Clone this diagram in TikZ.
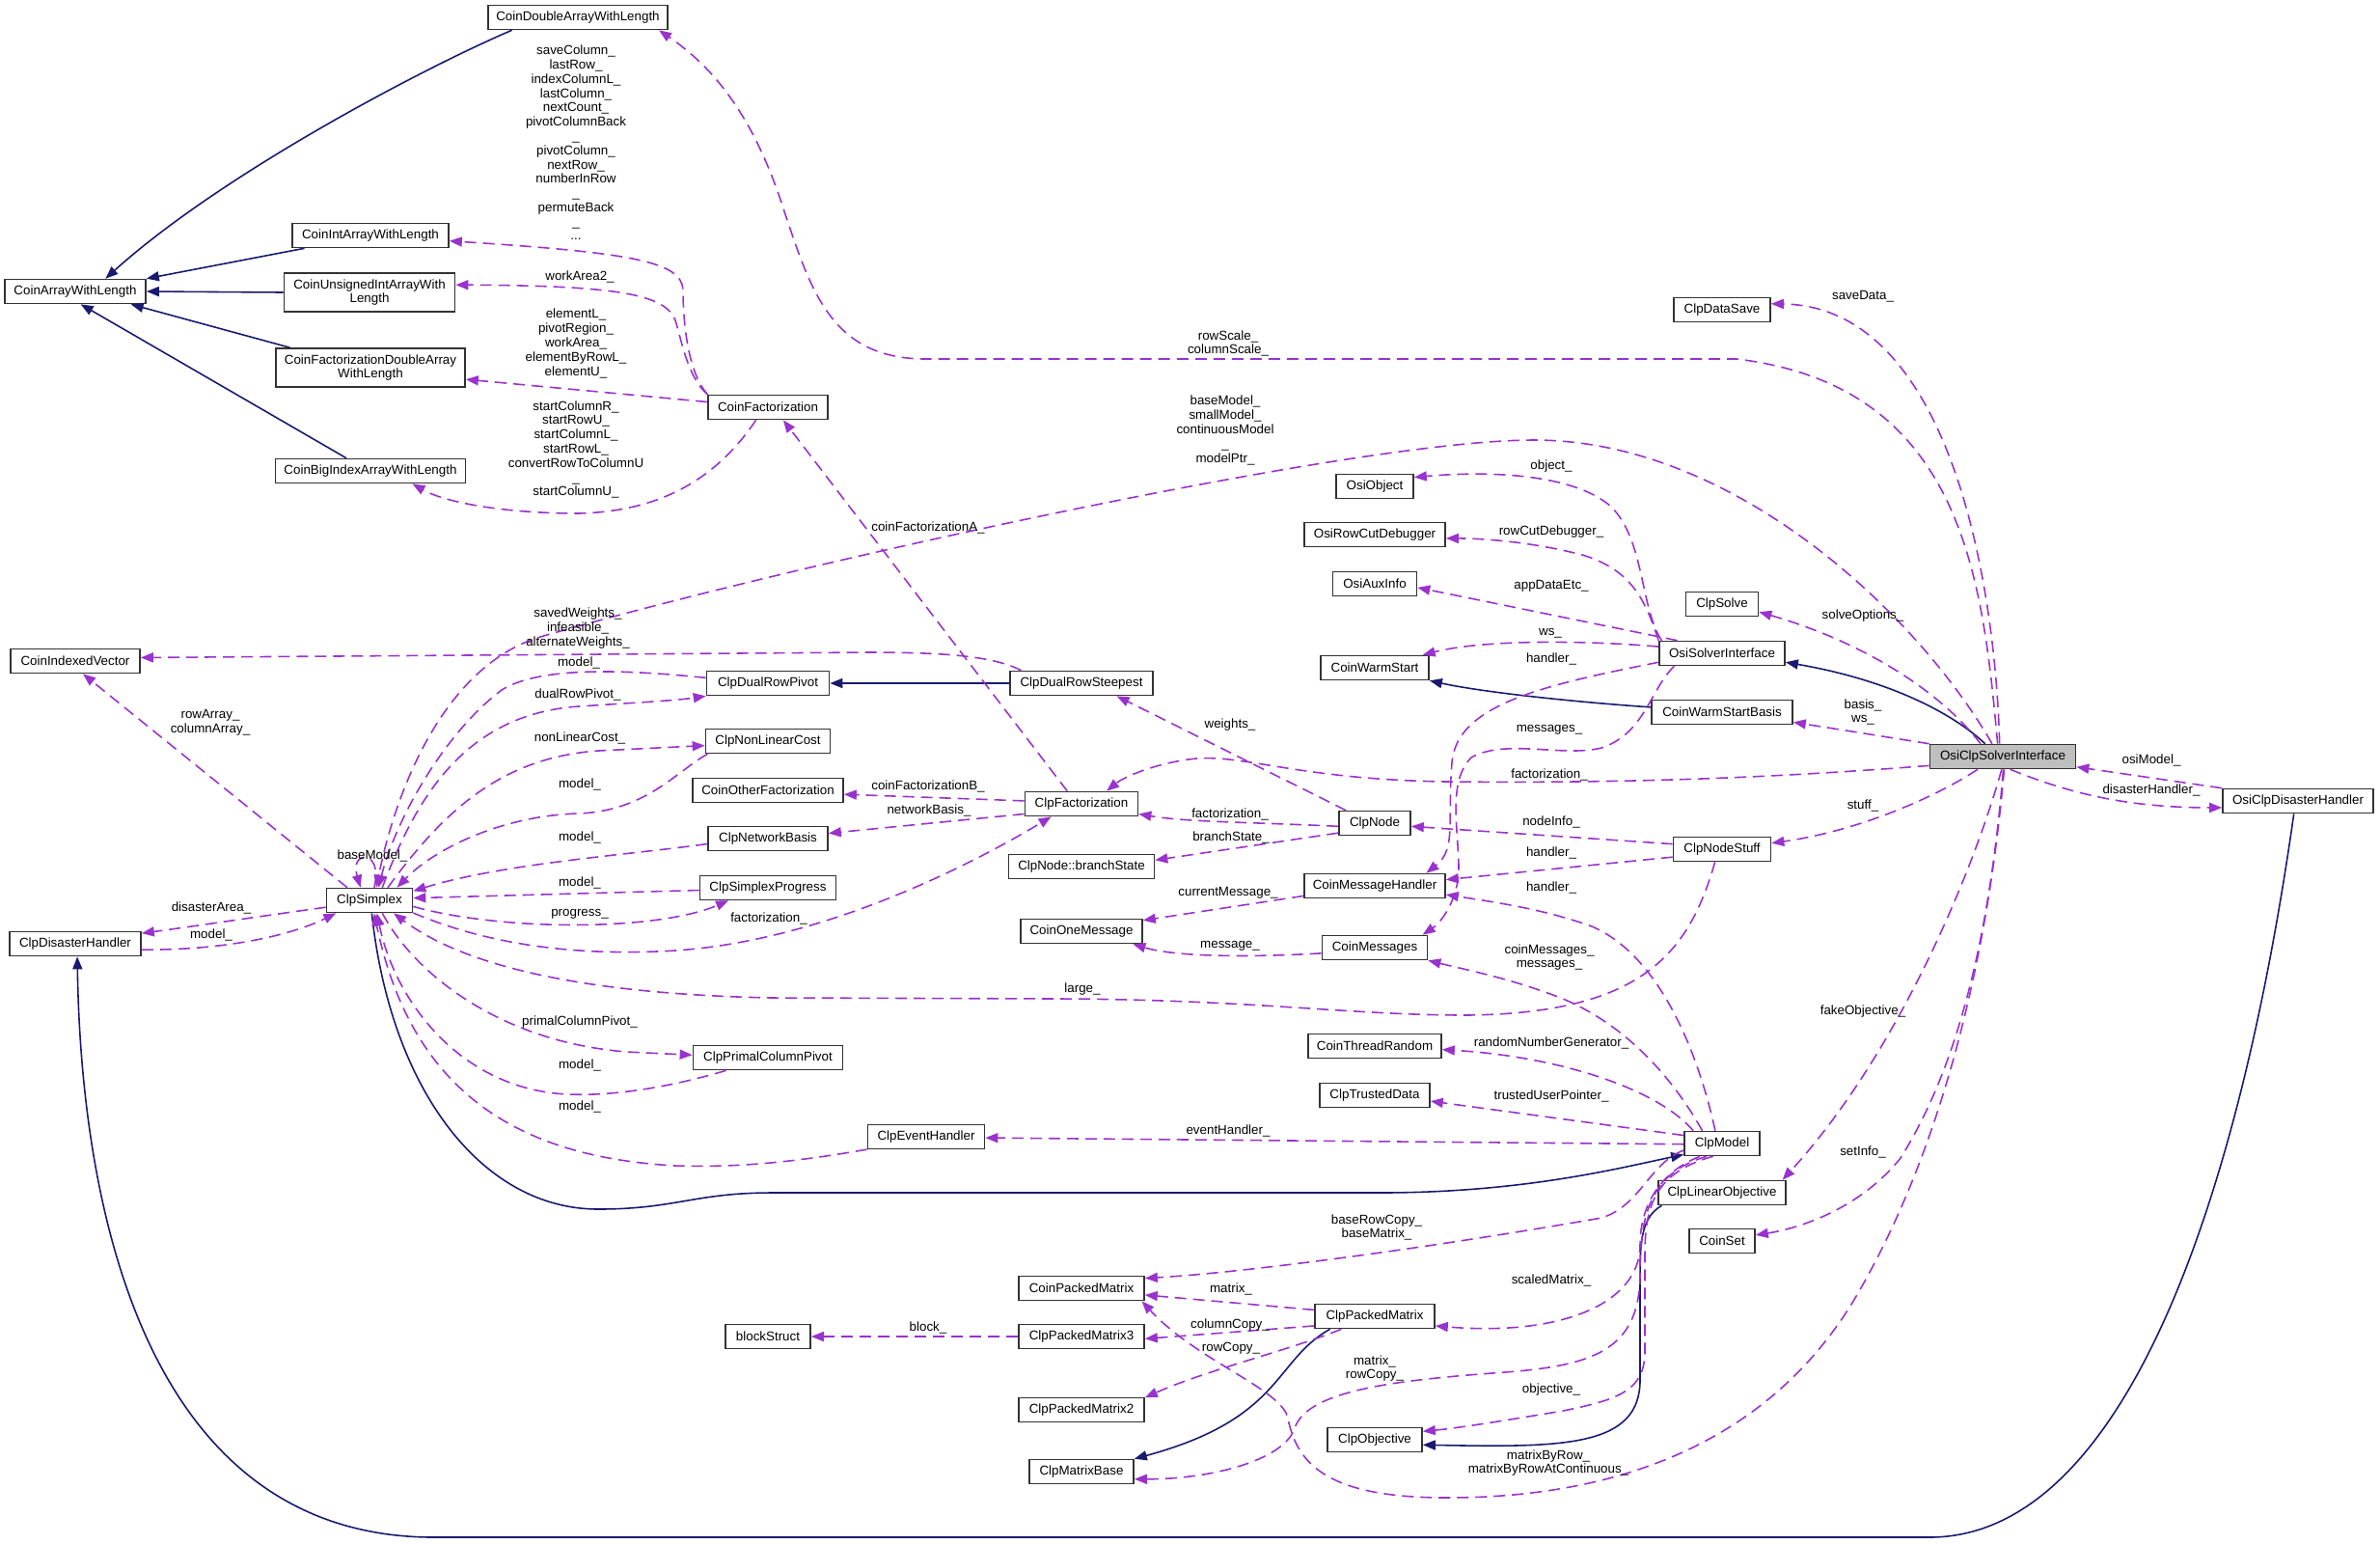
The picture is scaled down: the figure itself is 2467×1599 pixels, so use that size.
\documentclass[tikz,border=0pt]{standalone}
\usepackage{fontspec}
\setmainfont{Liberation Sans}
\usepackage{tikz}
\usetikzlibrary{arrows.meta}
\definecolor{inhblue}{HTML}{191970}
\definecolor{usepurple}{HTML}{9A32CD}
\definecolor{boxgray}{HTML}{BFBFBF}
\newcommand{\dgfont}{\fontsize{3.8}{4.2}\selectfont}
\tikzset{
  cls/.style={rectangle, draw=black!80, fill=white, line width=0.45pt, minimum width=#1,
              minimum height=0.25cm, inner sep=0pt, font=\dgfont, align=center},
  clstwo/.style={cls=#1, minimum height=0.40cm},
  focus/.style={cls=#1, fill=boxgray},
  lbl/.style={font=\dgfont, align=center, inner sep=0pt},
  inh/.style={draw=inhblue, line width=0.45pt, -{Triangle[length=0.13cm, width=0.10cm]}},
  dep/.style={draw=usepurple, line width=0.45pt, dash pattern=on 0.12cm off 0.07cm,
              -{Triangle[length=0.13cm, width=0.10cm]}},
}

\begin{document}
\begin{tikzpicture}[x=0.01cm, y=-0.01cm]
\useasboundingbox (0,0) rectangle (2467,1599);
% classes
\node[cls=1.86cm] (dblarr) at (599,18) {CoinDoubleArrayWithLength};
\node[cls=1.46cm] (arr) at (78,302) {CoinArrayWithLength};
\node[cls=1.62cm] (intarr) at (384,244) {CoinIntArrayWithLength};
\node[clstwo=1.77cm] (uintarr) at (383,303) {CoinUnsignedIntArrayWith\\Length};
\node[clstwo=1.96cm] (facdbl) at (384,381) {CoinFactorizationDoubleArray\\WithLength};
\node[cls=1.97cm] (bigidx) at (384,488) {CoinBigIndexArrayWithLength};
\node[cls=1.24cm] (coinfac) at (796,422) {CoinFactorization};
\node[cls=1.00cm] (datasave) at (1785,321) {ClpDataSave};
\node[cls=0.80cm] (osiobj) at (1425,504) {OsiObject};
\node[cls=1.34cm] (idxvec) at (78,685) {CoinIndexedVector};
\node[cls=0.89cm] (simplex) at (383,933) {ClpSimplex};
\node[cls=1.36cm] (disaster) at (78,978) {ClpDisasterHandler};
\node[cls=1.27cm] (dualpivot) at (796,708) {ClpDualRowPivot};
\node[cls=1.48cm] (steepest) at (1121,708) {ClpDualRowSteepest};
\node[cls=1.29cm] (nonlin) at (796,768) {ClpNonLinearCost};
\node[cls=1.56cm] (otherfac) at (796,819) {CoinOtherFactorization};
\node[cls=1.17cm] (clpfac) at (1121,833) {ClpFactorization};
\node[cls=1.24cm] (netbasis) at (796,869) {ClpNetworkBasis};
\node[cls=1.51cm] (branch) at (1121,898) {ClpNode::branchState};
\node[cls=1.41cm] (progress) at (796,920) {ClpSimplexProgress};
\node[cls=1.26cm] (onemsg) at (1121,965) {CoinOneMessage};
\node[cls=1.46cm] (rowcut) at (1425,554) {OsiRowCutDebugger};
\node[cls=0.87cm] (auxinfo) at (1425,605) {OsiAuxInfo};
\node[cls=0.75cm] (solve) at (1785,626) {ClpSolve};
\node[cls=1.30cm] (osisolver) at (1785,677) {OsiSolverInterface};
\node[cls=1.12cm] (warmstart) at (1425,692) {CoinWarmStart};
\node[cls=1.46cm] (wsbasis) at (1785,738) {CoinWarmStartBasis};
\node[cls=0.74cm] (clpnode) at (1425,853) {ClpNode};
\node[cls=1.01cm] (nodestuff) at (1785,880) {ClpNodeStuff};
\node[cls=1.46cm] (msghandler) at (1425,918) {CoinMessageHandler};
\node[cls=1.09cm] (messages) at (1425,982) {CoinMessages};
\node[focus=1.51cm] (osiclp) at (2076,784) {OsiClpSolverInterface};
\node[cls=1.56cm] (osidisaster) at (2382,830) {OsiClpDisasterHandler};
\node[cls=1.55cm] (primal) at (796,1096) {ClpPrimalColumnPivot};
\node[cls=1.21cm] (eventh) at (960,1178) {ClpEventHandler};
\node[cls=1.30cm] (packed) at (1121,1335) {CoinPackedMatrix};
\node[cls=0.88cm] (blockst) at (796,1385) {blockStruct};
\node[cls=1.30cm] (packedthree) at (1121,1385) {ClpPackedMatrix3};
\node[cls=1.30cm] (packedtwo) at (1121,1461) {ClpPackedMatrix2};
\node[cls=1.08cm] (matbase) at (1121,1525) {ClpMatrixBase};
\node[cls=1.38cm] (threadrand) at (1425,1084) {CoinThreadRandom};
\node[cls=1.14cm] (trusted) at (1425,1135) {ClpTrustedData};
\node[cls=0.78cm] (model) at (1785,1185) {ClpModel};
\node[cls=1.32cm] (linobj) at (1785,1236) {ClpLinearObjective};
\node[cls=0.68cm] (coinset) at (1785,1286) {CoinSet};
\node[cls=1.24cm] (clppacked) at (1425,1364) {ClpPackedMatrix};
\node[cls=0.98cm] (objective) at (1425,1492) {ClpObjective};
% inheritance
\draw[inh] (dblarr.191) .. controls (440,70) and (230,180) .. (arr.23);
\draw[inh] (intarr.191) -- (arr.north east);
\draw[inh] (uintarr.west) -- (arr.east);
\draw[inh] (facdbl.166) -- (arr.-13);
\draw[inh] (bigidx.152) -- (arr.-67);
\draw[inh] (steepest.west) -- (dualpivot.east);
\draw[inh] (wsbasis.176) .. controls (1640,728) and (1540,718) .. (warmstart.south east);
\draw[inh] (osiclp.144) .. controls (2025,740) and (1960,705) .. (osisolver.-8);
\draw[inh] (osidisaster.-108) .. controls (2320,1250) and (2200,1593) .. (2000,1593) -- (450,1593) .. controls (150,1593) and (84,1250) .. (disaster.-81);
\draw[inh] (simplex.-80) .. controls (405,1130) and (500,1253) .. (620,1253) .. controls (700,1253) and (720,1236) .. (800,1236) -- (1430,1236) .. controls (1580,1236) and (1680,1210) .. (model.196);
\draw[inh] (clppacked.196) .. controls (1320,1410) and (1330,1470) .. (matbase.north east);
\draw[inh] (linobj.192) .. controls (1700,1262) and (1700,1290) .. (1700,1330) -- (1700,1430) .. controls (1700,1500) and (1620,1500) .. (objective.-6);
% usage
\draw[dep] (coinfac.168) .. controls (712,385) and (708,330) .. (708,300) .. controls (706,272) and (660,262) .. (intarr.-4);
\draw[dep] (coinfac.north west) .. controls (712,390) and (706,350) .. (700,332) .. controls (690,305) and (640,296) .. (uintarr.5);
\draw[dep] (coinfac.175) -- (facdbl.-7);
\draw[dep] (coinfac.-133) .. controls (740,500) and (680,530) .. (600,532) .. controls (520,532) and (460,520) .. (bigidx.-17);
\draw[dep] (osiclp.112) .. controls (2055,600) and (2035,400) .. (1800,372) -- (960,372) .. controls (860,372) and (840,300) .. (810,210) .. controls (780,120) and (740,70) .. (dblarr.-9);
\draw[dep] (osiclp.104) .. controls (2068,600) and (2020,318) .. (datasave.7);
\draw[dep] (osiclp.130) .. controls (1990,640) and (1800,456) .. (1590,456) .. controls (1400,456) and (800,590) .. (560,660) .. controls (460,690) and (410,820) .. (simplex.62);
\draw[dep] (steepest.168) .. controls (1030,680) and (980,676) .. (900,676) -- (idxvec.3);
\draw[dep] (dualpivot.175) .. controls (650,694) and (560,690) .. (520,715) .. controls (460,760) and (410,850) .. (simplex.55);
\draw[dep] (simplex.45) .. controls (430,830) and (480,740) .. (600,732) .. controls (660,728) and (700,726) .. (dualpivot.south west);
\draw[dep] (simplex.35) .. controls (460,840) and (520,785) .. (620,778) -- (nonlin.184);
\draw[dep] (nonlin.192) .. controls (700,800) and (670,840) .. (600,843) .. controls (520,845) and (450,880) .. (simplex.25);
\draw[dep] (netbasis.185) .. controls (650,886) and (520,895) .. (simplex.12);
\draw[dep] (progress.182) -- (simplex.3);
\draw[dep] (simplex.-8) .. controls (520,965) and (680,965) .. (progress.-162);
\draw[dep] (simplex.-16) .. controls (520,985) and (620,990) .. (700,985) .. controls (850,975) and (1000,900) .. (clpfac.-157);
\draw[dep] (nodestuff.-119) .. controls (1750,990) and (1700,1050) .. (1520,1052) .. controls (1400,1052) and (1300,1036) .. (1100,1035) -- (800,1034) .. controls (600,1030) and (480,1000) .. (simplex.-28);
\draw[dep] (simplex.-45) .. controls (430,1010) and (520,1080) .. (650,1090) -- (primal.178);
\draw[dep] (primal.-163) .. controls (700,1125) and (640,1136) .. (590,1134) .. controls (480,1130) and (410,1040) .. (simplex.-60);
\draw[dep] (eventh.-168) .. controls (820,1205) and (760,1210) .. (700,1208) .. controls (560,1200) and (430,1150) .. (simplex.-70);
\draw[dep] (simplex.70) .. controls (398,880) and (362,880) .. (simplex.125);
\draw[dep] (simplex.150) -- (idxvec.-59);
\draw[dep] (simplex.189) .. controls (280,948) and (200,960) .. (disaster.9);
\draw[dep] (disaster.-5) .. controls (230,985) and (300,970) .. (simplex.-159);
\draw[dep] (clpfac.138) -- (coinfac.-40);
\draw[dep] (clpfac.177) -- (otherfac.-3);
\draw[dep] (clpfac.190) -- (netbasis.5);
\draw[dep] (clpnode.156) -- (steepest.-20);
\draw[dep] (clpnode.185) .. controls (1300,852) and (1230,852) .. (clpfac.-10);
\draw[dep] (clpnode.195) -- (branch.5);
\draw[dep] (msghandler.188) -- (onemsg.10);
\draw[dep] (messages.186) .. controls (1300,992) and (1220,992) .. (onemsg.-14);
\draw[dep] (osiclp.187) .. controls (1850,805) and (1700,812) .. (1500,810) .. controls (1350,808) and (1290,782) .. (1240,786) .. controls (1200,790) and (1165,805) .. (clpfac.27);
\draw[dep] (osisolver.168) .. controls (1700,630) and (1705,560) .. (1670,525) .. controls (1630,490) and (1540,488) .. (osiobj.13);
\draw[dep] (osisolver.north west) .. controls (1705,620) and (1690,590) .. (1640,575) .. controls (1590,562) and (1540,558) .. (rowcut.-3);
\draw[dep] (osisolver.164) -- (auxinfo.-5);
\draw[dep] (osisolver.174) .. controls (1650,664) and (1540,662) .. (warmstart.15);
\draw[dep] (osisolver.188) .. controls (1600,710) and (1510,730) .. (1505,790) .. controls (1500,850) and (1510,880) .. (msghandler.14);
\draw[dep] (osisolver.-165) .. controls (1710,715) and (1705,760) .. (1660,775) .. controls (1620,785) and (1560,765) .. (1525,785) .. controls (1500,810) and (1512,860) .. (1512,900) .. controls (1512,930) and (1495,955) .. (messages.15);
\draw[dep] (nodestuff.174) -- (clpnode.-5);
\draw[dep] (nodestuff.189) -- (msghandler.5);
\draw[dep] (model.118) .. controls (1760,1090) and (1720,990) .. (1650,960) .. controls (1600,942) and (1550,935) .. (msghandler.-7);
\draw[dep] (model.147) .. controls (1730,1110) and (1680,1060) .. (1620,1035) .. controls (1570,1015) and (1520,1005) .. (messages.south east);
\draw[dep] (model.156) .. controls (1720,1130) and (1620,1095) .. (threadrand.-3);
\draw[dep] (model.168) -- (trusted.-6);
\draw[dep] (model.181) -- (eventh.-1);
\draw[dep] (model.190) .. controls (1710,1205) and (1700,1250) .. (1660,1262) .. controls (1500,1290) and (1300,1318) .. (packed.9);
\draw[dep] (clppacked.174) -- (packed.-6);
\draw[dep] (clppacked.189) -- (packedthree.-2);
\draw[dep] (clppacked.-159) .. controls (1340,1398) and (1250,1420) .. (packedtwo.11);
\draw[dep] (packedthree.west) -- (blockst.east);
\draw[dep] (model.-150) .. controls (1720,1215) and (1700,1250) .. (1700,1290) .. controls (1700,1350) and (1620,1385) .. (clppacked.-9);
\draw[dep] (model.-140) .. controls (1710,1215) and (1700,1260) .. (1700,1320) .. controls (1700,1400) and (1650,1415) .. (1560,1422) .. controls (1450,1430) and (1355,1440) .. (1342,1480) .. controls (1330,1515) and (1250,1533) .. (matbase.-8);
\draw[dep] (model.-125) .. controls (1715,1215) and (1705,1250) .. (1705,1300) -- (1705,1400) .. controls (1705,1440) and (1680,1450) .. (1620,1462) .. controls (1560,1472) and (1510,1480) .. (objective.10);
\draw[dep] (osiclp.-84) .. controls (2060,1000) and (2010,1200) .. (1920,1350) .. controls (1840,1480) and (1700,1552) .. (1500,1552) .. controls (1380,1552) and (1345,1520) .. (1335,1470) .. controls (1330,1440) and (1240,1410) .. (packed.-12);
\draw[dep] (osiclp.-88) .. controls (2060,1000) and (2020,1120) .. (1970,1200) .. controls (1930,1250) and (1870,1272) .. (coinset.10);
\draw[dep] (osiclp.-95) .. controls (2040,920) and (1960,1100) .. (linobj.12);
\draw[dep] (osiclp.-153) .. controls (2000,830) and (1920,862) .. (nodestuff.7);
\draw[dep] (osiclp.north west) -- (wsbasis.-8);
\draw[dep] (osiclp.150) .. controls (2010,715) and (1930,665) .. (solve.-12);
\draw[dep] (osidisaster.north west) -- (osiclp.-8);
\draw[dep] (osiclp.-60) .. controls (2140,820) and (2200,837) .. (osidisaster.185);
% member labels
\node[lbl] (lsave) at (597,148) {saveColumn\_\\lastRow\_\\indexColumnL\_\\lastColumn\_\\nextCount\_\\pivotColumnBack\\\_\\pivotColumn\_\\nextRow\_\\numberInRow\\\_\\permuteBack\\\_\\...};
\node[lbl] (lwork) at (601,287) {workArea2\_};
\node[lbl] (lelem) at (597,356) {elementL\_\\pivotRegion\_\\workArea\_\\elementByRowL\_\\elementU\_};
\node[lbl] (lstart) at (597,466) {startColumnR\_\\startRowU\_\\startColumnL\_\\startRowL\_\\convertRowToColumnU\\\_\\startColumnU\_};
\node[lbl] (lscale) at (1273,356) {rowScale\_\\columnScale\_};
\node[lbl] (lsavedata) at (1931,307) {saveData\_};
\node[lbl] (lbasemodel) at (1270,446) {baseModel\_\\smallModel\_\\continuousModel\\\_\\modelPtr\_};
\node[lbl] (lweights) at (599,651) {savedWeights\_\\infeasible\_\\alternateWeights\_};
\node[lbl] (lmodela) at (600,687) {model\_};
\node[lbl] (ldualpivot) at (599,720) {dualRowPivot\_};
\node[lbl] (lnonlin) at (601,765) {nonLinearCost\_};
\node[lbl] (lmodelb) at (601,813) {model\_};
\node[lbl] (lmodelc) at (601,868) {model\_};
\node[lbl] (lmodeld) at (601,915) {model\_};
\node[lbl] (lprogress) at (601,947) {progress\_};
\node[lbl] (lfaca) at (797,952) {factorization\_};
\node[lbl] (llarge) at (1122,1025) {large\_};
\node[lbl] (lprimal) at (601,1059) {primalColumnPivot\_};
\node[lbl] (lmodele) at (601,1104) {model\_};
\node[lbl] (lmodelf) at (601,1147) {model\_};
\node[lbl] (lselfbase) at (386,887) {baseModel\_};
\node[lbl] (lrowarray) at (218,749) {rowArray\_\\columnArray\_};
\node[lbl] (ldisarea) at (219,941) {disasterArea\_};
\node[lbl] (lmodelg) at (219,969) {model\_};
\node[lbl] (lcfa) at (962,547) {coinFactorizationA\_};
\node[lbl] (lcfb) at (962,815) {coinFactorizationB\_};
\node[lbl] (lnetbasis) at (963,840) {networkBasis\_};
\node[lbl] (lweightsb) at (1275,751) {weights\_};
\node[lbl] (lfacb) at (1275,844) {factorization\_};
\node[lbl] (lbranch) at (1276,868) {branchState\_};
\node[lbl] (lcurmsg) at (1273,925) {currentMessage\_};
\node[lbl] (lmsg) at (1275,980) {message\_};
\node[lbl] (lfacc) at (1606,803) {factorization\_};
\node[lbl] (lobject) at (1608,483) {object\_};
\node[lbl] (lrowcut) at (1608,551) {rowCutDebugger\_};
\node[lbl] (lappdata) at (1608,607) {appDataEtc\_};
\node[lbl] (lws) at (1607,656) {ws\_};
\node[lbl] (lhandlera) at (1608,683) {handler\_};
\node[lbl] (lmessagesa) at (1606,756) {messages\_};
\node[lbl] (lnodeinfo) at (1608,852) {nodeInfo\_};
\node[lbl] (lhandlerb) at (1608,884) {handler\_};
\node[lbl] (lhandlerc) at (1608,920) {handler\_};
\node[lbl] (lcoinmsg) at (1606,992) {coinMessages\_\\messages\_};
\node[lbl] (lrandom) at (1608,1081) {randomNumberGenerator\_};
\node[lbl] (ltrusted) at (1608,1136) {trustedUserPointer\_};
\node[lbl] (levent) at (1273,1172) {eventHandler\_};
\node[lbl] (lbaserow) at (1427,1272) {baseRowCopy\_\\baseMatrix\_};
\node[lbl] (lmatrixa) at (1276,1336) {matrix\_};
\node[lbl] (lcolcopy) at (1275,1373) {columnCopy\_};
\node[lbl] (lrowcopy) at (1276,1397) {rowCopy\_};
\node[lbl] (lblock) at (962,1376) {block\_};
\node[lbl] (lscaled) at (1608,1327) {scaledMatrix\_};
\node[lbl] (lmatrixb) at (1425,1418) {matrix\_\\rowCopy\_};
\node[lbl] (lobjective) at (1608,1440) {objective\_};
\node[lbl] (lbyrow) at (1605,1516) {matrixByRow\_\\matrixByRowAtContinuous\_};
\node[lbl] (lsetinfo) at (1931,1194) {setInfo\_};
\node[lbl] (lfakeobj) at (1931,1048) {fakeObjective\_};
\node[lbl] (lstuff) at (1931,835) {stuff\_};
\node[lbl] (lbasis) at (1931,738) {basis\_\\ws\_};
\node[lbl] (lsolveopt) at (1931,638) {solveOptions\_};
\node[lbl] (losimodel) at (2230,788) {osiModel\_};
\node[lbl] (ldishandler) at (2230,819) {disasterHandler\_};
\end{tikzpicture}
\end{document}
